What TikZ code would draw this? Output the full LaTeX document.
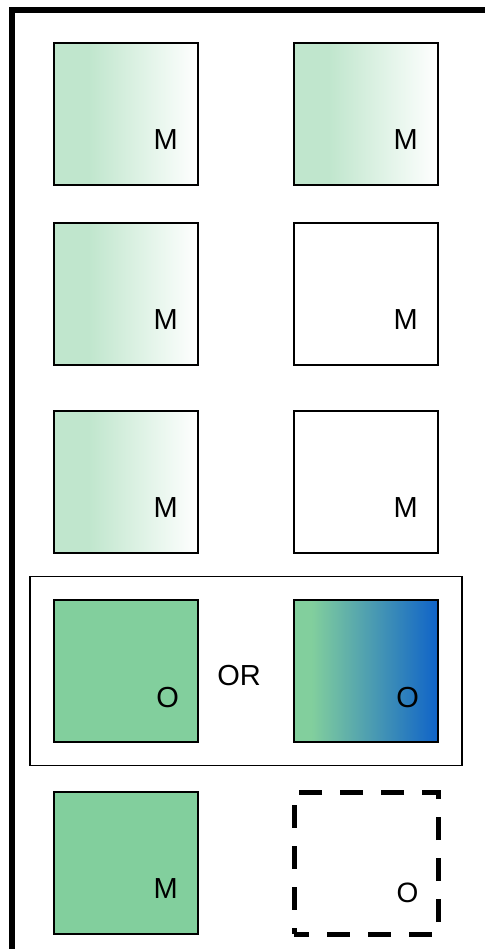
\documentclass[tikz,border=0pt]{standalone}
\usepackage{fontspec}
\setmainfont{Liberation Sans}
\usetikzlibrary{calc}
\definecolor{lgreen}{RGB}{192,230,205}
\definecolor{mgreen}{RGB}{130,207,157}
\definecolor{oblue}{RGB}{15,99,200}
\pgfdeclarehorizontalshading{mfade}{100bp}{color(0bp)=(lgreen); color(37bp)=(lgreen); color(75bp)=(white); color(100bp)=(white)}
\pgfdeclarehorizontalshading{gblue}{100bp}{color(0bp)=(mgreen); color(31bp)=(mgreen); color(75bp)=(oblue); color(100bp)=(oblue)}
\tikzset{
  cell/.style={draw=black, line width=1.5pt, inner sep=0pt, minimum width=144pt, minimum height=142pt},
  fadecell/.style={cell, shading=mfade},
  plaincell/.style={cell, fill=white},
  greencell/.style={cell, fill=mgreen},
  bluecell/.style={cell, shading=gblue},
  dashcell/.style={draw=black, line width=5pt, dash pattern=on 23pt off 18pt, dash phase=8pt, inner sep=0pt, minimum width=144pt, minimum height=142pt},
  lbl/.style={inner sep=0pt, font=\fontsize{29}{34}\selectfont},
  slbl/.style={inner sep=0pt, font=\fontsize{28}{33}\selectfont},
}
\begin{document}
\begin{tikzpicture}[x=1pt, y=-1pt]
\useasboundingbox (0,0) rectangle (485,949);
% frame
\coordinate (fb) at (12,949);
\coordinate (fc) at (12,10);
\coordinate (fr) at (485,10);
\draw[line width=5.5pt, line join=miter] (fb) -- (fc) -- (fr);
% OR group box
\node[draw=black, line width=1.8pt, inner sep=0pt, minimum width=432pt, minimum height=189pt] (grp) at (246,671) {};
% cells
\node[fadecell] (a1) at (126,114) {};
\node[fadecell] (b1) at (366,114) {};
\node[fadecell] (a2) at (126,294) {};
\node[plaincell] (b2) at (366,294) {};
\node[fadecell] (a3) at (126,482) {};
\node[plaincell] (b3) at (366,482) {};
\node[greencell] (a4) at (126,671) {};
\node[bluecell] (b4) at (366,671) {};
\node[greencell] (a5) at (126,863) {};
\node[dashcell] (b5) at (366,863) {};
% labels
\node[lbl] (la1) at ($(a1.south east)+(-33,-46)$) {M};
\node[lbl] (lb1) at ($(b1.south east)+(-33,-46)$) {M};
\node[lbl] (la2) at ($(a2.south east)+(-33,-46)$) {M};
\node[lbl] (lb2) at ($(b2.south east)+(-33,-46)$) {M};
\node[lbl] (la3) at ($(a3.south east)+(-33,-46)$) {M};
\node[lbl] (lb3) at ($(b3.south east)+(-33,-46)$) {M};
\node[lbl] (la4) at ($(a4.south east)+(-31,-45)$) {O};
\node[lbl] (lb4) at ($(b4.south east)+(-31,-45)$) {O};
\node[lbl] (la5) at ($(a5.south east)+(-33,-46)$) {M};
\node[slbl] (lb5) at ($(b5.south east)+(-33,-44)$) {O};
\node[lbl] (or) at (239,676) {OR};
\end{tikzpicture}
\end{document}
